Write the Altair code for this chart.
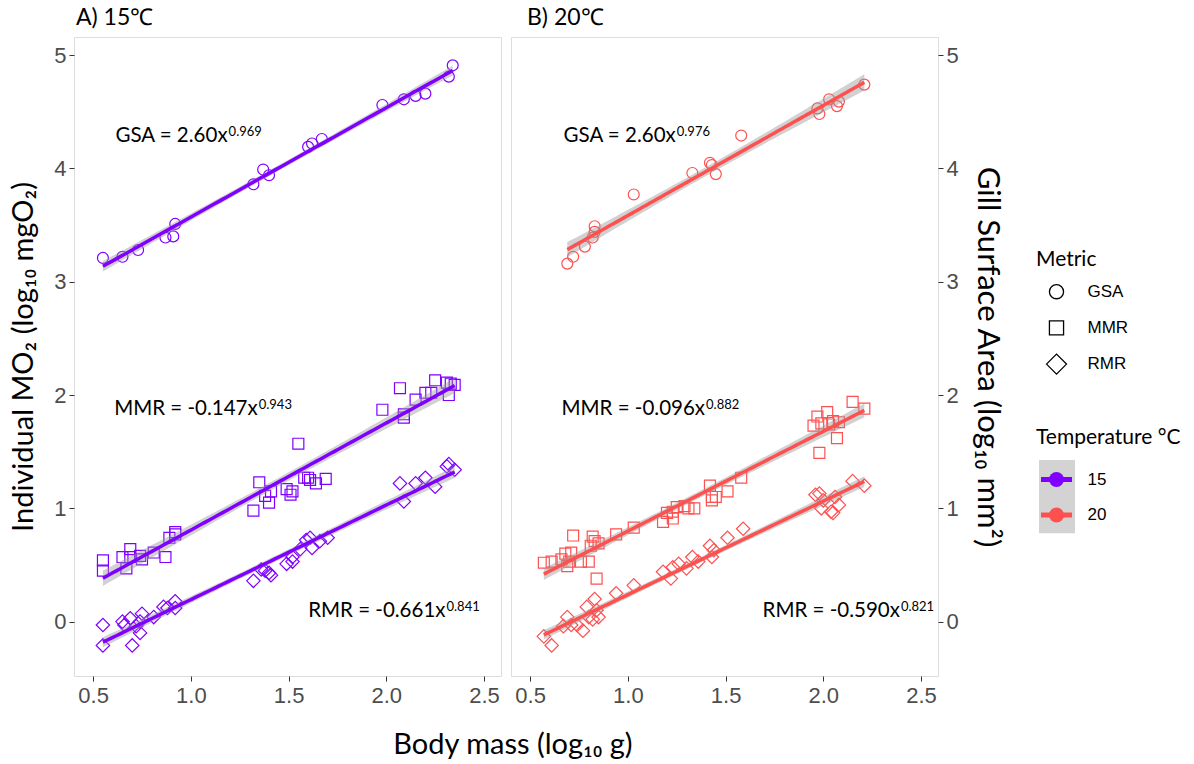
import altair as alt
import pandas as pd
import numpy as np

metrics = ["GSA", "MMR", "RMR"]
temps = ["15", "20"]
temp_colors = ["#7F00FF", "#FF5050"]
shapes = ["circle", "square", "diamond"]

# ---- Panel A: 15 C ----
a_gsa_x = [0.55, 0.65, 0.73, 0.87, 0.91, 0.92, 1.32, 1.37, 1.40, 1.60, 1.62, 1.67, 1.98, 2.09, 2.15, 2.20, 2.32, 2.34]
a_gsa_y = [3.21, 3.22, 3.28, 3.39, 3.40, 3.51, 3.86, 3.99, 3.94, 4.19, 4.22, 4.26, 4.56, 4.61, 4.64, 4.66, 4.81, 4.91]

a_mmr_x = [0.55, 0.55, 0.67, 0.65, 0.69, 0.69, 0.74, 0.75, 0.81, 0.87, 0.89, 0.92, 0.92, 1.32, 1.35, 1.38, 1.40, 1.41,
           1.49, 1.51, 1.52, 1.55, 1.58, 1.60, 1.61, 1.64, 1.69, 1.98, 2.07, 2.09, 2.09, 2.15, 2.20, 2.23, 2.25, 2.31,
           2.32, 2.33, 2.35]
a_mmr_y = [0.54, 0.45, 0.47, 0.57, 0.64, 0.57, 0.58, 0.55, 0.61, 0.57, 0.74, 0.79, 0.77, 0.98, 1.23, 1.11, 1.05, 1.15,
           1.17, 1.12, 1.15, 1.57, 1.27, 1.27, 1.25, 1.22, 1.26, 1.87, 2.06, 1.80, 1.83, 1.96, 2.02, 2.02, 2.13, 2.11,
           2.00, 2.10, 2.09]

a_rmr_x = [0.55, 0.55, 0.65, 0.66, 0.69, 0.70, 0.72, 0.74, 0.75, 0.74, 0.81, 0.86, 0.88, 0.92, 0.92, 1.32, 1.36,
           1.38, 1.41, 1.40, 1.49, 1.52, 1.52, 1.56, 1.59, 1.61, 1.62, 1.66, 1.70, 2.07, 2.09, 2.15, 2.20, 2.25, 2.31,
           2.32, 2.35]
a_rmr_y = [-0.03, -0.21, 0.00, -0.03, 0.03, -0.21, -0.04, -0.10, 0.07, 0.00, 0.04, 0.13, 0.12, 0.18, 0.12, 0.36, 0.46,
           0.45, 0.41, 0.43, 0.51, 0.53, 0.57, 0.64, 0.72, 0.74, 0.65, 0.71, 0.74, 1.22, 1.06, 1.22, 1.27, 1.19, 1.37,
           1.39, 1.34]

# ---- Panel B: 20 C ----
b_gsa_x = [0.69, 0.72, 0.78, 0.82, 0.83, 0.83, 1.03, 1.33, 1.42, 1.43, 1.45, 1.58, 1.97, 1.98, 2.03, 2.07, 2.08, 2.21]
b_gsa_y = [3.16, 3.22, 3.31, 3.39, 3.44, 3.49, 3.77, 3.96, 4.05, 4.03, 3.95, 4.29, 4.53, 4.48, 4.61, 4.55, 4.59, 4.74]

b_mmr_x = [0.57, 0.61, 0.66, 0.68, 0.69, 0.71, 0.72, 0.70, 0.76, 0.80, 0.82, 0.83, 0.84, 0.81, 0.85, 0.94, 1.03,
           1.18, 1.20, 1.23, 1.23, 1.25, 1.29, 1.31, 1.34, 1.42, 1.43, 1.43, 1.45, 1.51, 1.58, 1.97, 1.95, 1.98, 2.02,
           2.03, 2.05, 2.07, 2.08, 2.15, 2.21, 1.99]
b_mmr_y = [0.52, 0.53, 0.55, 0.60, 0.49, 0.61, 0.76, 0.53, 0.53, 0.53, 0.75, 0.71, 0.38, 0.67, 0.69, 0.77, 0.83,
           0.88, 0.96, 0.91, 0.97, 1.01, 1.02, 1.00, 1.00, 1.20, 1.10, 1.07, 1.10, 1.15, 1.27, 1.81, 1.73, 1.49, 1.85,
           1.74, 1.77, 1.62, 1.76, 1.94, 1.88, 1.75]

b_rmr_x = [0.57, 0.61, 0.67, 0.69, 0.71, 0.74, 0.77, 0.79, 0.80, 0.83, 0.84, 0.85, 0.82, 0.94, 1.03, 1.18, 1.22, 1.23,
           1.26, 1.30, 1.33, 1.36, 1.42, 1.43, 1.44, 1.51, 1.59, 1.96, 1.98, 1.99, 2.00, 2.04, 2.05, 2.06, 2.08, 2.15,
           2.21]
b_rmr_y = [-0.13, -0.21, -0.04, 0.04, -0.03, -0.03, -0.08, 0.13, 0.04, 0.20, 0.10, 0.04, 0.02, 0.25, 0.32, 0.44, 0.38,
           0.48, 0.51, 0.47, 0.57, 0.53, 0.67, 0.57, 0.63, 0.74, 0.82, 1.12, 1.13, 1.00, 1.07, 0.97, 0.96, 1.10, 1.03,
           1.24, 1.20]

# equation annotations
ann_coef_a = ["2.60", "-0.147", "-0.661"]
ann_exp_a = ["0.969", "0.943", "0.841"]
ann_coef_b = ["2.60", "-0.096", "-0.590"]
ann_exp_b = ["0.976", "0.882", "0.821"]
ann_x_a = [1.188, 1.342, 2.303]
ann_y_a = [4.237, 1.824, 0.044]
ann_x_b = [1.245, 1.395, 2.392]
ann_y_b = [4.237, 1.824, 0.039]

x_ticks = [0.5, 1.0, 1.5, 2.0, 2.5]
y_ticks = [0, 1, 2, 3, 4, 5]
X_DOM = [0.402, 2.587]
Y_DOM = [-0.48, 5.16]

TITLE_FONT = "Lato"
TICK_FONT = "Liberation Sans"
PW, PH = 427, 639


def t975(df):
    z = 1.959964
    g1 = (z ** 3 + z) / 4
    g2 = (5 * z ** 5 + 16 * z ** 3 + 3 * z) / 96
    g3 = (3 * z ** 7 + 19 * z ** 5 + 17 * z ** 3 - 15 * z) / 384
    return z + g1 / df + g2 / df ** 2 + g3 / df ** 3


def fit_frame(xs, ys, metric):
    x = np.asarray(xs, float)
    y = np.asarray(ys, float)
    n = len(x)
    b, a = np.polyfit(x, y, 1)
    res = y - (a + b * x)
    s = np.sqrt(np.sum(res ** 2) / (n - 2))
    xb = x.mean()
    sxx = np.sum((x - xb) ** 2)
    gx = np.linspace(x.min(), x.max(), 80)
    fy = a + b * gx
    se = s * np.sqrt(1 / n + (gx - xb) ** 2 / sxx)
    t = t975(n - 2)
    return pd.DataFrame({"metric": metric, "x": gx, "fit": fy, "lo": fy - t * se, "hi": fy + t * se})


def panel(series, coefs, exps, axx, axy, color, title, title_dx, yaxis_orient, ytitle, tpad, tsize):
    pts = pd.concat([pd.DataFrame({"metric": m, "x": sx, "y": sy}) for m, (sx, sy) in zip(metrics, series)])
    fits = pd.concat([fit_frame(sx, sy, m) for m, (sx, sy) in zip(metrics, series)])
    ann = pd.DataFrame({
        "base": [f"{m} = {c}x" for m, c in zip(metrics, coefs)],
        "sup": exps, "x": axx, "y": axy,
    })

    xs = alt.Scale(domain=X_DOM, nice=False, zero=False)
    ys = alt.Scale(domain=Y_DOM, nice=False, zero=False)
    xaxis = alt.Axis(values=x_ticks, format=".1f", title=None, grid=False, domain=False,
                     tickSize=5, tickColor="#333333", labelPadding=4,
                     labelFont=TICK_FONT, labelFontSize=22, labelColor="#4D4D4D")
    yaxis = alt.Axis(values=y_ticks, format="d", title=ytitle, orient=yaxis_orient, grid=False,
                     domain=False, tickSize=5, tickColor="#333333", labelPadding=3,
                     labelFont=TICK_FONT, labelFontSize=22, labelColor="#4D4D4D",
                     titleFont=TITLE_FONT, titleFontSize=tsize, titleFontWeight="normal",
                     titleColor="black", titlePadding=tpad)

    pts_layer = alt.Chart(pts).mark_point(filled=False, color=color, strokeWidth=1.2, opacity=1).encode(
        x=alt.X("x:Q", scale=xs, axis=xaxis),
        y=alt.Y("y:Q", scale=ys, axis=yaxis),
        shape=alt.Shape("metric:N", scale=alt.Scale(domain=metrics, range=shapes), legend=None),
        size=alt.condition("datum.metric == 'RMR'", alt.value(180), alt.value(120)),
    )
    band = alt.Chart(fits).mark_area(color="#999999", opacity=0.45).encode(
        x=alt.X("x:Q", scale=xs), y=alt.Y("lo:Q", scale=ys), y2="hi:Q", detail="metric:N")
    line = alt.Chart(fits).mark_line(color=color, strokeWidth=3.5).encode(
        x=alt.X("x:Q", scale=xs), y=alt.Y("fit:Q", scale=ys), detail="metric:N")
    base_txt = alt.Chart(ann).mark_text(align="right", baseline="alphabetic", font=TITLE_FONT,
                                        fontSize=20.5, color="black").encode(
        x=alt.X("x:Q", scale=xs), y=alt.Y("y:Q", scale=ys), text="base:N")
    sup_txt = alt.Chart(ann).mark_text(align="left", baseline="alphabetic", font=TITLE_FONT,
                                       fontSize=13, color="black", dy=-6, dx=1).encode(
        x=alt.X("x:Q", scale=xs), y=alt.Y("y:Q", scale=ys), text="sup:N")

    return alt.layer(pts_layer, band, line, base_txt, sup_txt).properties(
        width=PW, height=PH,
        title=alt.TitleParams(title, anchor="start", frame="group", font=TITLE_FONT, fontSize=23,
                              fontWeight="normal", color="black", baseline="alphabetic",
                              offset=-11, dx=title_dx),
    )


pa = panel([(a_gsa_x, a_gsa_y), (a_mmr_x, a_mmr_y), (a_rmr_x, a_rmr_y)], ann_coef_a, ann_exp_a,
           ann_x_a, ann_y_a, temp_colors[0], "A) 15℃", 2, "left", "Individual MO₂ (log₁₀ mgO₂)", 15, 29)
pb = panel([(b_gsa_x, b_gsa_y), (b_mmr_x, b_mmr_y), (b_rmr_x, b_rmr_y)], ann_coef_b, ann_exp_b,
           ann_x_b, ann_y_b, temp_colors[1], "B) 20℃", 16, "right", "Gill Surface Area (log₁₀ mm²)", 12, 31)

# ---- manual legend ----
LW = 150
lx = alt.Scale(domain=[0, LW], nice=False, zero=False)
ly = alt.Scale(domain=[PH, 0], nice=False, zero=False)
leg_titles = pd.DataFrame({"label": ["Metric", "Temperature °C"], "px": [8, 8], "py": [229, 407]})
leg_metric = pd.DataFrame({"metric": metrics, "px": 28.5, "py": [254.7 + 36.2 * i for i in range(len(metrics))]})
leg_temp = pd.DataFrame({"temp": temps, "px": 28.5, "x1": 13, "x2": 44,
                         "py": [442.5 + 35.5 * i for i in range(len(temps))]})
leg_box = pd.DataFrame({"x1": [11], "x2": [47], "y1": [423], "y2": [496.3]})

l_titles = alt.Chart(leg_titles).mark_text(align="left", baseline="alphabetic", font=TITLE_FONT,
                                           fontSize=21, color="black").encode(
    x=alt.X("px:Q", scale=lx, axis=None), y=alt.Y("py:Q", scale=ly, axis=None), text="label:N")
l_shapes = alt.Chart(leg_metric).mark_point(filled=False, color="black", strokeWidth=1.3, opacity=1).encode(
    x=alt.X("px:Q", scale=lx, axis=None), y=alt.Y("py:Q", scale=ly, axis=None),
    shape=alt.Shape("metric:N", scale=alt.Scale(domain=metrics, range=shapes), legend=None),
    size=alt.condition("datum.metric == 'RMR'", alt.value(400), alt.value(200)))
l_mlabels = alt.Chart(leg_metric).mark_text(align="left", baseline="middle", font=TICK_FONT,
                                            fontSize=17, color="black", dx=31).encode(
    x=alt.X("px:Q", scale=lx, axis=None), y=alt.Y("py:Q", scale=ly, axis=None), text="metric:N")
l_box = alt.Chart(leg_box).mark_rect(color="#D3D3D3").encode(
    x=alt.X("x1:Q", scale=lx, axis=None), x2="x2:Q",
    y=alt.Y("y1:Q", scale=ly, axis=None), y2="y2:Q")
l_rules = alt.Chart(leg_temp).mark_rule(strokeWidth=5).encode(
    x=alt.X("x1:Q", scale=lx, axis=None), x2="x2:Q", y=alt.Y("py:Q", scale=ly, axis=None),
    color=alt.Color("temp:N", scale=alt.Scale(domain=temps, range=temp_colors), legend=None))
l_dots = alt.Chart(leg_temp).mark_point(filled=True, size=225, opacity=1).encode(
    x=alt.X("px:Q", scale=lx, axis=None), y=alt.Y("py:Q", scale=ly, axis=None),
    color=alt.Color("temp:N", scale=alt.Scale(domain=temps, range=temp_colors), legend=None))
l_tlabels = alt.Chart(leg_temp).mark_text(align="left", baseline="middle", font=TICK_FONT,
                                          fontSize=17, color="black", dx=31).encode(
    x=alt.X("px:Q", scale=lx, axis=None), y=alt.Y("py:Q", scale=ly, axis=None), text="temp:N")

legend_view = alt.layer(l_titles, l_shapes, l_mlabels, l_box, l_rules, l_dots, l_tlabels).properties(
    width=LW, height=PH, view=alt.ViewBackground(stroke="transparent"))

panels = alt.hconcat(pa, pb, spacing=8).resolve_scale(
    x="independent", y="independent", shape="independent")

chart = alt.hconcat(panels, legend_view, spacing=24).resolve_scale(
    x="independent", y="independent", shape="independent", color="independent"
).properties(
    padding={"left": 9, "top": 6, "right": 0, "bottom": 0},
    title=alt.TitleParams("Body mass (log₁₀ g)", orient="bottom", anchor="start", frame="bounds",
                          font=TITLE_FONT, fontSize=29, fontWeight="normal", color="black",
                          offset=24, dx=384),
).configure_view(stroke="#7F7F7F", strokeWidth=1).configure(background="white")

chart.save("out.html", embed_options={"renderer": "svg", "actions": False})
